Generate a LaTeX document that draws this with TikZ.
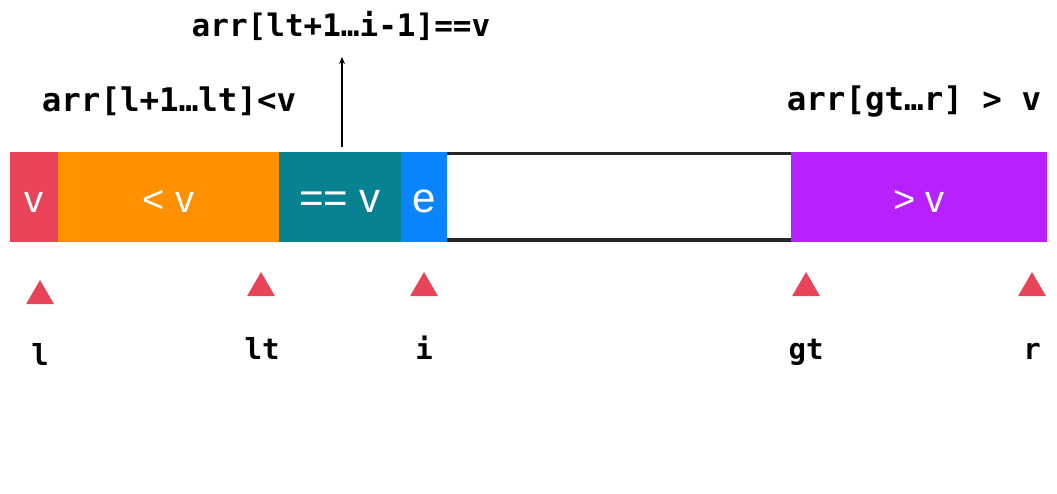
\documentclass[tikz,border=0pt]{standalone}
\usepackage{fontspec}
\setmainfont{Liberation Sans}
\newfontfamily\codefont{DejaVu Sans Mono}
\usetikzlibrary{shapes.geometric,arrows.meta}
\definecolor{cred}{RGB}{232,67,88}
\definecolor{corange}{RGB}{255,145,0}
\definecolor{cteal}{RGB}{8,130,144}
\definecolor{cblue}{RGB}{10,132,255}
\definecolor{cpurple}{RGB}{183,33,255}
\tikzset{
  seg/.style={rectangle, inner sep=0pt, outer sep=0pt, minimum height=90pt, text=white,
    font=\fontsize{38}{38}\selectfont, text height=32pt, text depth=0pt},
  bigseg/.style={seg, font=\fontsize{42}{42}\selectfont},
  ptr/.style={regular polygon, regular polygon sides=3, fill=cred, inner sep=0pt, minimum size=32pt},
  code/.style={font=\codefont\bfseries\fontsize{29}{29}\selectfont, inner sep=0pt, anchor=base},
  bigcode/.style={code, font=\codefont\bfseries\fontsize{32.5}{32}\selectfont},
}
\begin{document}
\begin{tikzpicture}[x=1pt,y=-1pt]
\useasboundingbox[fill=white] (0,0) rectangle (1057,494);
% bar segments
\node[seg, fill=cred, minimum width=48pt] (sv) at (34,197) {v};
\node[seg, fill=corange, minimum width=221pt] (slt) at (168.5,197) {< v};
\node[bigseg, fill=cteal, minimum width=122pt] (seq) at (340,197) {== v};
\node[bigseg, fill=cblue, minimum width=46pt] (se) at (424,197) {e};
\node[seg, fill=white, minimum width=344pt] (sun) at (619,197) {};
\node[seg, fill=cpurple, minimum width=256pt] (sgt) at (919,197) {> v};
\draw[line width=3.5pt, black!85] ([yshift=-1.75pt]sun.north west) -- ([yshift=-1.75pt]sun.north east);
\draw[line width=3.5pt, black!85] ([yshift=1.75pt]sun.south west) -- ([yshift=1.75pt]sun.south east);
% labels above
\node[code, font=\codefont\bfseries\fontsize{31}{31}\selectfont] (ltop) at (341,37) {arr[lt+1…i-1]==v};
\node[bigcode] (lleft) at (169,112) {arr[l+1…lt]<v};
\node[bigcode] (lright) at (914,111) {arr[gt…r] > v};
\draw[line width=1.2pt, -{Stealth[length=7pt,width=6pt]}, shorten <=5pt] ([xshift=2pt]seq.north) -- ([xshift=2pt]seq.north |- 0,57);
% pointers
\node[ptr] (tl) at (40,296) {};
\node[ptr] (tlt) at (261,288) {};
\node[ptr] (ti) at (424,288) {};
\node[ptr] (tgt) at (806,288) {};
\node[ptr] (tr) at (1032,288) {};
\node[code] (nl) at (40,365) {l};
\node[code] (nlt) at (262,359) {lt};
\node[code] (ni) at (424,359) {i};
\node[code] (ngt) at (806,359) {gt};
\node[code] (nr) at (1032,359) {r};
\end{tikzpicture}
\end{document}
